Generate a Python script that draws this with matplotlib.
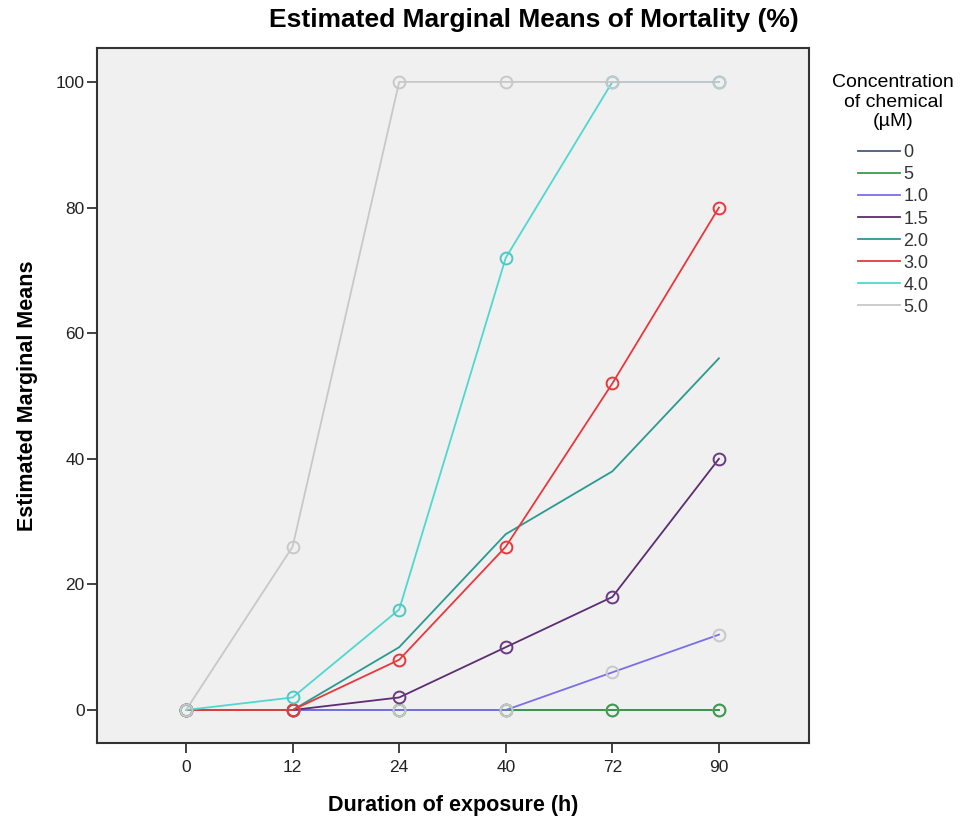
import numpy as np
import matplotlib.pyplot as plt

plt.rcParams['font.family'] = ['Liberation Sans', 'DejaVu Sans']

# duration of exposure (h) - categorical axis
hours = ['0', '12', '24', '40', '72', '90']

# mortality (%) per concentration of chemical (uM)
conc_labels = ['0', '5', '1.0', '1.5', '2.0', '3.0', '4.0', '5.0']
m_0 = [0, 0, 0, 0, 0, 0]
m_5 = [0, 0, 0, 0, 0, 0]
m_10 = [0, 0, 0, 0, 6, 12]
m_15 = [0, 0, 2, 10, 18, 40]
m_20 = [0, 0, 10, 28, 38, 56]
m_30 = [0, 0, 8, 26, 52, 80]
m_40 = [0, 2, 16, 72, 100, 100]
m_50 = [0, 26, 100, 100, 100, 100]

series = [m_0, m_5, m_10, m_15, m_20, m_30, m_40, m_50]
line_colors = ['#4a5a7a', '#3c9a4c', '#7a6ee8', '#5c2d72', '#2a9a90', '#e8383c', '#4ed8d0', '#c8c8c8']
marker_colors = ['#b8b8b8', '#3c9a4c', '#c8c8c8', '#6a3a82', None, '#e8383c', '#4ec8c4', '#c8c8c8']

fig = plt.figure(figsize=(9.63, 8.22), dpi=100)
ax = fig.add_axes([97/963, 1 - 743/822, (809 - 97)/963, (743 - 48)/822])
ax.set_facecolor('#f0f0f0')

x = np.arange(len(hours))
for vals, lab, lc, mc in zip(series, conc_labels, line_colors, marker_colors):
    ax.plot(x, vals, color=lc, lw=1.3, label=lab, zorder=2)
    if mc is not None:
        ax.plot(x, vals, ls='none', marker='o', ms=8.5, mfc='none', mec=mc, mew=1.4, zorder=3)

ax.set_xlim(-0.835, 5.845)
ax.set_ylim(-5.25, 105.4)
ax.set_xticks(x)
ax.set_xticklabels(hours)
ax.set_yticks([0, 20, 40, 60, 80, 100])
ax.tick_params(direction='out', length=7, width=1.2, labelsize=12.5, colors='#222222')
ax.tick_params(axis='x', pad=5)
ax.tick_params(axis='y', pad=2)
for s in ax.spines.values():
    s.set_linewidth(1.5)
    s.set_color('#333333')

ax.set_xlabel('Duration of exposure (h)', fontsize=15.5, fontweight='bold')
ax.xaxis.set_label_coords(0.5, (743 - 805) / 695)
ax.xaxis.label.set_va('center')
ax.set_ylabel('Estimated Marginal Means', fontsize=15.5, fontweight='bold')
ax.yaxis.set_label_coords((28 - 97) / 712, 0.5)
ax.yaxis.label.set_va('center')

fig.text(534/963, 1 - 20/822, 'Estimated Marginal Means of Mortality (%)', ha='center', va='center',
         fontsize=19, fontweight='bold')

leg = fig.legend(loc='upper left', bbox_to_anchor=(816/963, 1 - 58/822), frameon=False,
                 title='Concentration\nof chemical\n(µM)', title_fontsize=14, fontsize=13,
                 handlelength=2.3, handletextpad=0.2, labelspacing=0.28)
leg._legend_box.align = 'center'
leg._legend_box.sep = 10
leg.get_title().set_multialignment('center')
for t in leg.get_texts():
    t.set_color('#333333')

fig.savefig('out.png', dpi=100)
